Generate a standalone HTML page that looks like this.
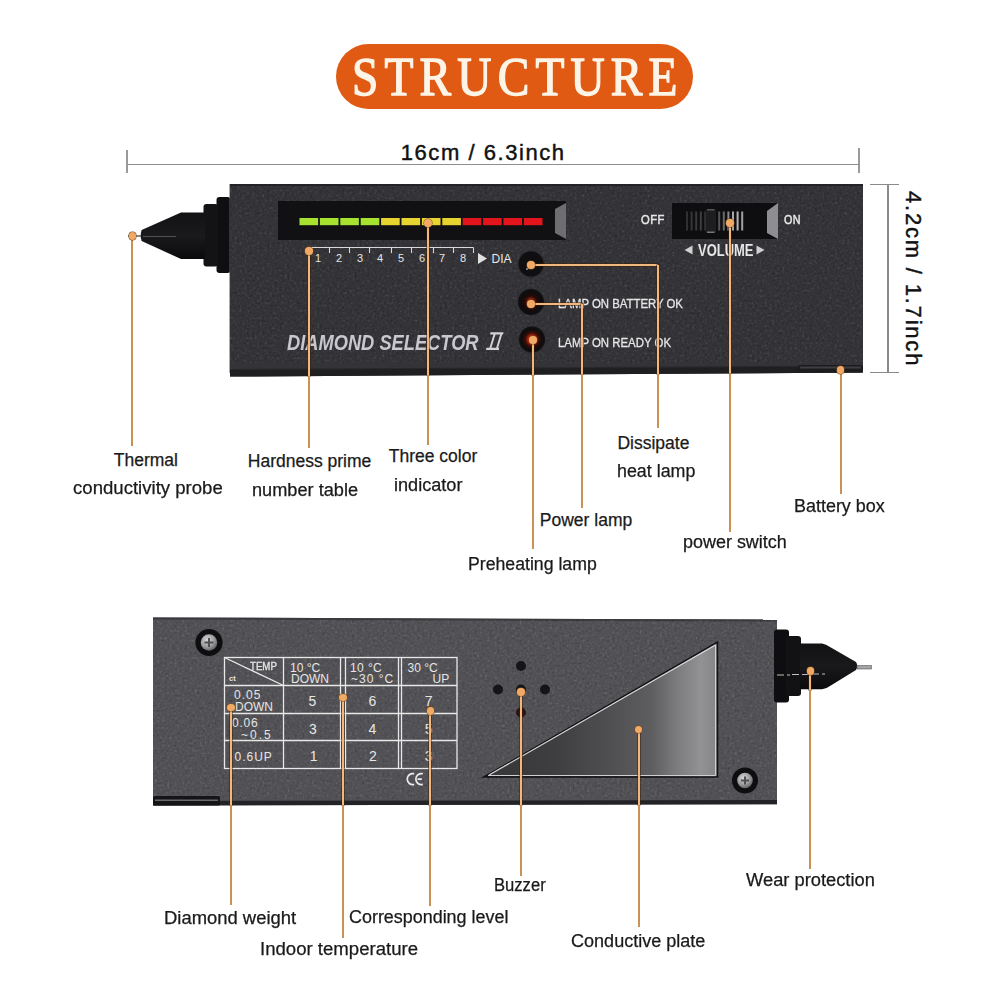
<!DOCTYPE html>
<html><head><meta charset="utf-8"><style>
html,body{margin:0;padding:0;background:#fff;}
body{width:1000px;height:1000px;position:relative;overflow:hidden;font-family:"Liberation Sans",sans-serif;}
.t{position:absolute;line-height:1;white-space:nowrap;}
.lab{color:#1a1a1a;-webkit-text-stroke:0.25px #1a1a1a;}
.dim{color:#111;}
.pw{color:#e6e6e6;}
.ban{color:#fdf4e8;font-family:"Liberation Serif",serif;font-weight:normal;letter-spacing:7.2px;-webkit-text-stroke:1.4px #fdf4e8;}
.banner{position:absolute;left:336px;top:44px;width:357px;height:65px;border-radius:33px;background:#e05a14;}
</style></head><body>
<div class="banner"></div><div class="t ban" style="left:352px;top:49.04px;font-size:55px;transform-origin:0 0;transform:scaleX(0.86);">STRUCTURE</div>
<div style="position:absolute;left:126.2px;top:150px;width:1.6px;height:23px;background:#9a9a9a;"></div>
<div style="position:absolute;left:858.2px;top:148px;width:1.6px;height:24.5px;background:#9a9a9a;"></div>
<div style="position:absolute;left:127px;top:163.8px;width:732px;height:1.4px;background:#8e8e8e;"></div>
<div class="t dim" style="left:400.8px;top:142.18px;font-size:22px;letter-spacing:1.55px;-webkit-text-stroke:0.45px #111;">16cm / 6.3inch</div>
<div style="position:absolute;left:887px;top:184px;width:1.5px;height:188px;background:#8a8a8a;"></div>
<div style="position:absolute;left:870px;top:183.5px;width:29px;height:1.5px;background:#8a8a8a;"></div>
<div style="position:absolute;left:870px;top:371.5px;width:29px;height:1.5px;background:#8a8a8a;"></div>
<div class="t dim" style="left:905px;top:191px;font-size:22px;letter-spacing:1.8px;-webkit-text-stroke:0.45px #111;transform-origin:0 0;transform:translate(18.5px,0) rotate(90deg);">4.2cm / 1.7inch</div>
<svg style="position:absolute;left:0;top:0" width="1000" height="1000" viewBox="0 0 1000 1000">
<defs>
<linearGradient id="cone" x1="0" y1="0" x2="0" y2="1">
 <stop offset="0" stop-color="#121214"/><stop offset="0.5" stop-color="#1a1a1c"/><stop offset="1" stop-color="#0a0a0c"/>
</linearGradient>
<linearGradient id="plate" x1="0" y1="0" x2="1" y2="0">
 <stop offset="0" stop-color="#2c2c2e"/><stop offset="0.55" stop-color="#505052"/><stop offset="0.85" stop-color="#8a8a8c"/><stop offset="1" stop-color="#7a7a7c"/>
</linearGradient>
<filter id="gL" x="0" y="0" width="1" height="1"><feTurbulence type="fractalNoise" baseFrequency="0.4" numOctaves="2" seed="4"/><feColorMatrix type="matrix" values="0 0 0 0 1  0 0 0 0 1  0 0 0 0 1  3.5 0 0 0 -2.0"/></filter>
<filter id="gD" x="0" y="0" width="1" height="1"><feTurbulence type="fractalNoise" baseFrequency="0.4" numOctaves="2" seed="4"/><feColorMatrix type="matrix" values="0 0 0 0 0  0 0 0 0 0  0 0 0 0 0  -3.5 0 0 0 1.5"/></filter>
<radialGradient id="lampR" cx="0.5" cy="0.5" r="0.5">
 <stop offset="0" stop-color="#ff7040"/><stop offset="0.25" stop-color="#c82a12"/><stop offset="0.5" stop-color="#3c0c08"/><stop offset="0.75" stop-color="#0e0c0c"/><stop offset="0.92" stop-color="#101012"/><stop offset="1" stop-color="#2a2a2c"/>
</radialGradient>
<radialGradient id="lampO" cx="0.5" cy="0.5" r="0.5">
 <stop offset="0" stop-color="#f06a38"/><stop offset="0.22" stop-color="#8a2010"/><stop offset="0.45" stop-color="#240a08"/><stop offset="0.75" stop-color="#0e0c0c"/><stop offset="0.92" stop-color="#101012"/><stop offset="1" stop-color="#2a2a2c"/>
</radialGradient>
</defs>
<!-- probe -->
<rect x="216.5" y="197" width="14" height="76" rx="3" fill="#0f0f11"/>
<rect x="203.5" y="204" width="14.5" height="62.5" rx="3" fill="#131315"/>
<path d="M141.6 230 Q139.8 235.5 141.6 241 L181 259 L205 259 L205 212.5 L181 212.5 Z" fill="url(#cone)"/>
<line x1="143" y1="236.5" x2="176" y2="236.5" stroke="#505052" stroke-width="1.2"/>
<line x1="128" y1="236" x2="141" y2="236" stroke="#3a3a3a" stroke-width="1.2"/>
<rect x="229.5" y="184" width="1.2" height="189" fill="#5a5a5e"/>
<!-- body -->
<path d="M231 184 L862 184 Q863 184 863 185 L863 372.5 L230 376.6 L230 185 Q230 184 231 184 Z" fill="#343438"/>
<rect x="230" y="184" width="633" height="2" fill="#232326"/>
<rect x="230" y="186" width="633" height="177" filter="url(#gL)" opacity="0.10"/>
<rect x="230" y="186" width="633" height="177" filter="url(#gD)" opacity="0.22"/>
<!-- display window -->
<rect x="278" y="201" width="288" height="39" fill="#111113"/>
<path d="M555 209 L566 203 L566 239 L555 233 Z" fill="#6e6e70"/>
<rect x="299.5" y="218" width="18.6" height="7.2" fill="#a6e22e"/>
<rect x="319.9" y="218" width="18.6" height="7.2" fill="#a6e22e"/>
<rect x="340.3" y="218" width="18.6" height="7.2" fill="#a6e22e"/>
<rect x="360.7" y="218" width="18.6" height="7.2" fill="#a6e22e"/>
<rect x="381.1" y="218" width="18.6" height="7.2" fill="#e8d430"/>
<rect x="401.5" y="218" width="18.6" height="7.2" fill="#e8d430"/>
<rect x="421.9" y="218" width="18.6" height="7.2" fill="#e8d430"/>
<rect x="442.3" y="218" width="18.6" height="7.2" fill="#e8d430"/>
<rect x="462.7" y="218" width="18.6" height="7.2" fill="#e3141c"/>
<rect x="483.1" y="218" width="18.6" height="7.2" fill="#e3141c"/>
<rect x="503.5" y="218" width="18.6" height="7.2" fill="#e3141c"/>
<rect x="523.9" y="218" width="18.6" height="7.2" fill="#e3141c"/>
<line x1="309" y1="247.5" x2="473.5" y2="247.5" stroke="#d8d8d8" stroke-width="1.1"/>
<line x1="329.5" y1="247.5" x2="329.5" y2="253" stroke="#d8d8d8" stroke-width="1.1"/>
<line x1="349.5" y1="247.5" x2="349.5" y2="253" stroke="#d8d8d8" stroke-width="1.1"/>
<line x1="369.5" y1="247.5" x2="369.5" y2="253" stroke="#d8d8d8" stroke-width="1.1"/>
<line x1="391.5" y1="247.5" x2="391.5" y2="253" stroke="#d8d8d8" stroke-width="1.1"/>
<line x1="411.5" y1="247.5" x2="411.5" y2="253" stroke="#d8d8d8" stroke-width="1.1"/>
<line x1="433.5" y1="247.5" x2="433.5" y2="253" stroke="#d8d8d8" stroke-width="1.1"/>
<line x1="453.5" y1="247.5" x2="453.5" y2="253" stroke="#d8d8d8" stroke-width="1.1"/>
<line x1="473.5" y1="247.5" x2="473.5" y2="253" stroke="#d8d8d8" stroke-width="1.1"/>
<path d="M478 253 L487 258.5 L478 264 Z" fill="#e0e0e0"/>
<circle cx="531" cy="264" r="13.5" fill="#2a2a2c"/><circle cx="531" cy="264" r="12.4" fill="#0f0f11"/><circle cx="527" cy="269" r="1" fill="#9a9a9a"/>
<circle cx="531" cy="302" r="13.5" fill="url(#lampO)"/>
<circle cx="532" cy="339.5" r="13.5" fill="url(#lampR)"/>
<rect x="672" y="203" width="106" height="36" fill="#0e0e10"/>
<path d="M767 211 L778 203 L778 239 L767 233 Z" fill="#8e8e90"/>
<rect x="686.0" y="211.5" width="2" height="19" fill="#303032"/>
<rect x="690.6" y="211.5" width="2" height="19" fill="#353537"/>
<rect x="695.2" y="211.5" width="2" height="19" fill="#3a3a3c"/>
<rect x="699.8" y="211.5" width="2" height="19" fill="#3e3e40"/>
<rect x="704.4" y="211.5" width="2" height="19" fill="#404042"/>
<rect x="709.0" y="211.5" width="2" height="19" fill="#444446"/>
<rect x="713.6" y="211.5" width="2" height="19" fill="#4a4a4c"/>
<rect x="718.2" y="211.5" width="2" height="19" fill="#555557"/>
<rect x="722.8" y="211.5" width="2" height="19" fill="#6a6a6c"/>
<rect x="727.4" y="211.5" width="2" height="19" fill="#8a8a8c"/>
<rect x="732.0" y="211.5" width="2" height="19" fill="#a8a8aa"/>
<rect x="736.6" y="211.5" width="2" height="19" fill="#b4b4b6"/>
<rect x="741.2" y="211.5" width="2" height="19" fill="#a0a0a2"/>
<rect x="705.5" y="209" width="10.5" height="24" rx="1.5" fill="#1e1e20"/>
<rect x="707" y="209" width="7.5" height="1.5" fill="#555"/><rect x="707" y="231.5" width="7.5" height="1.5" fill="#777"/>
<path d="M684.5 250 L692.5 245.5 L692.5 254.5 Z" fill="#d0d0d0"/>
<path d="M764.5 250 L756.5 245.5 L756.5 254.5 Z" fill="#d0d0d0"/>
<path d="M230 369 L863 365.5 L863 366.5 L230 370 Z" fill="#28282b"/>
<path d="M230 370 L863 366.5 L863 372.5 L230 376.6 Z" fill="#1f1f22"/>
<path d="M795 372.5 L799 365 L861 365 Q863.5 366 863 369 L862 372.5 Z" fill="#1c1c1e"/>
<rect x="800" y="366.5" width="61" height="2" fill="#3e3e42"/>
</svg>
<div class="t pw" style="left:315px;top:252.69px;font-size:11px;">1</div>
<div class="t pw" style="left:336px;top:252.69px;font-size:11px;">2</div>
<div class="t pw" style="left:357px;top:252.69px;font-size:11px;">3</div>
<div class="t pw" style="left:377px;top:252.69px;font-size:11px;">4</div>
<div class="t pw" style="left:398px;top:252.69px;font-size:11px;">5</div>
<div class="t pw" style="left:419px;top:252.69px;font-size:11px;">6</div>
<div class="t pw" style="left:439px;top:252.69px;font-size:11px;">7</div>
<div class="t pw" style="left:460px;top:252.69px;font-size:11px;">8</div>
<div class="t pw" style="left:491.5px;top:252.84px;font-size:12px;">DIA</div>
<div class="t pw" style="left:558px;top:298.42px;font-size:12.5px;-webkit-text-stroke:0.3px #e6e6e6;transform-origin:0 0;transform:scaleX(0.91);">LAMP ON BATTERY OK</div>
<div class="t pw" style="left:558px;top:337.42px;font-size:12.5px;-webkit-text-stroke:0.3px #e6e6e6;transform-origin:0 0;transform:scaleX(0.912);">LAMP ON READY OK</div>
<div class="t pw" style="left:641px;top:213.00px;font-size:13px;-webkit-text-stroke:0.5px #e6e6e6;letter-spacing:0.5px;transform-origin:0 0;transform:scaleX(0.86);">OFF</div>
<div class="t pw" style="left:784px;top:213.00px;font-size:13px;-webkit-text-stroke:0.5px #e6e6e6;letter-spacing:0.5px;transform-origin:0 0;transform:scaleX(0.83);">ON</div>
<div class="t pw" style="left:697.5px;top:242.96px;font-size:16px;font-weight:bold;transform-origin:0 0;transform:scaleX(0.81);">VOLUME</div>
<div class="t pw" style="left:287px;top:333.30px;font-size:21.5px;font-weight:bold;font-style:italic;color:#c8c8ce;transform-origin:0 0;transform:scaleX(0.85);">DIAMOND SELECTOR</div>
<svg style="position:absolute;left:0;top:0" width="1000" height="400"><g fill="#d2d2d8"><path d="M490.5 332.3 L503.5 332.3 L503.1 334.4 L490.1 334.4 Z"/><path d="M486.4 347.8 L499.2 347.8 L498.8 349.9 L486 349.9 Z"/><path d="M493.6 334 L495.6 334 L491.3 348.2 L489.3 348.2 Z"/><path d="M500.3 334 L502.3 334 L498 348.2 L496 348.2 Z"/></g></svg><svg style="position:absolute;left:0;top:0" width="1000" height="1000" viewBox="0 0 1000 1000">
<defs>
<linearGradient id="cone2" x1="0" y1="0" x2="0" y2="1">
 <stop offset="0" stop-color="#121214"/><stop offset="0.5" stop-color="#19191b"/><stop offset="1" stop-color="#0a0a0c"/>
</linearGradient>
<radialGradient id="screw" cx="0.4" cy="0.35" r="0.7"><stop offset="0" stop-color="#d8d8da"/><stop offset="0.6" stop-color="#9a9a9c"/><stop offset="1" stop-color="#5a5a5c"/></radialGradient>
<linearGradient id="plate2" gradientUnits="userSpaceOnUse" x1="484" y1="0" x2="717" y2="0">
 <stop offset="0" stop-color="#363638"/><stop offset="0.3" stop-color="#3e3e40"/><stop offset="0.55" stop-color="#505052"/><stop offset="0.72" stop-color="#5e5e60"/><stop offset="0.82" stop-color="#7a7a7c"/><stop offset="0.93" stop-color="#929294"/><stop offset="1" stop-color="#858587"/>
</linearGradient>
</defs>
<path d="M153 617.5 L777 619.5 L777 804.2 L153 805.6 Z" fill="#525256"/>
<path d="M153 617.5 L777 619.5 L777 621.5 L153 619.5 Z" fill="#3a3a3e"/>
<rect x="153" y="620.5" width="624" height="178" filter="url(#gL)" opacity="0.12"/>
<rect x="153" y="620.5" width="624" height="178" filter="url(#gD)" opacity="0.18"/>
<path d="M153 801 L777 800 L777 804.2 L153 805.6 Z" fill="#232327"/>
<rect x="153" y="796" width="67" height="9.6" rx="1.5" fill="#151517"/>
<rect x="155" y="799.5" width="63" height="1.5" fill="#6a6a6c"/>
<!-- probe -->
<rect x="774" y="629.4" width="15" height="73" rx="3" fill="#0e0e10"/>
<rect x="786" y="636" width="15" height="60" rx="3" fill="#121214"/>
<path d="M800 643.6 L822 643.6 Q826 644.5 830 647 L856 662 Q858.5 666 856 670 L830 686 Q826 689 822 689.3 L800 689.3 Z" fill="url(#cone2)"/>
<rect x="857" y="665.5" width="14.5" height="3.5" fill="#a4a4a6" stroke="#555" stroke-width="0.6"/>
<path d="M777 675 H790 M792 674.5 H808 M812 674 H825" stroke="#bdbdbd" stroke-width="1" stroke-dasharray="7 3"/>
<!-- screws -->
<circle cx="209" cy="642.5" r="13.6" fill="#0e0e10"/>
<circle cx="209" cy="642.5" r="8.3" fill="url(#screw)"/><path d="M204.5 642.5 H213.5 M209 638 V647" stroke="#505052" stroke-width="2"/>
<circle cx="745" cy="780.5" r="13" fill="#0e0e10"/>
<circle cx="745" cy="780.5" r="7.8" fill="url(#screw)"/><path d="M741 780.5 H749 M745 776.5 V784.5" stroke="#505052" stroke-width="2"/>
<!-- triangle plate -->
<path d="M484 777 L717.5 642 L717.5 777 Z" fill="url(#plate2)" stroke="#121214" stroke-width="1.5"/>
<path d="M489 775 L715.5 645" stroke="#d8d8d8" stroke-width="1.2"/>
<path d="M488 775.5 L715.5 775.5 L715.5 645" stroke="#cfcfcf" stroke-width="1" fill="none"/>
<!-- buzzer holes -->
<circle cx="521" cy="666" r="5" fill="#151517"/>
<circle cx="498" cy="689.5" r="5" fill="#151517"/>
<circle cx="521" cy="689.5" r="5" fill="#151517"/>
<circle cx="545" cy="689.5" r="5" fill="#151517"/>
<circle cx="521" cy="712.5" r="5" fill="#2a1414"/>
<!-- table -->
<g stroke="#e8e8e8" stroke-width="1.3" fill="none">
<rect x="224.5" y="657.5" width="232.5" height="111"/>
<line x1="283.5" y1="657.5" x2="283.5" y2="768.5"/>
<line x1="340.5" y1="657.5" x2="340.5" y2="768.5"/>
<line x1="345.5" y1="657.5" x2="345.5" y2="768.5"/>
<line x1="398.5" y1="657.5" x2="398.5" y2="768.5"/>
<line x1="401.5" y1="657.5" x2="401.5" y2="768.5"/>
<line x1="224.5" y1="685.5" x2="457" y2="685.5"/>
<line x1="224.5" y1="713.5" x2="457" y2="713.5"/>
<line x1="224.5" y1="740.5" x2="457" y2="740.5"/>
<line x1="224.5" y1="657.5" x2="283.5" y2="685.5"/>
</g>
</svg>
<div class="t pw" style="left:250px;top:660.91px;font-size:10.5px;-webkit-text-stroke:0.3px #e6e6e6;transform-origin:0 0;transform:scaleX(0.92);">TEMP</div>
<div class="t pw" style="left:229px;top:674.65px;font-size:7.5px;font-weight:bold;">ct</div>
<div class="t pw" style="left:290px;top:662.34px;font-size:12px;">10 °C</div>
<div class="t pw" style="left:291px;top:672.84px;font-size:12px;">DOWN</div>
<div class="t pw" style="left:350px;top:662.34px;font-size:12px;letter-spacing:0.4px;">10 °C</div>
<div class="t pw" style="left:351px;top:672.84px;font-size:12px;letter-spacing:1px;">~30 °C</div>
<div class="t pw" style="left:407.5px;top:662.34px;font-size:12px;">30 °C</div>
<div class="t pw" style="left:432.5px;top:672.84px;font-size:12px;">UP</div>
<div class="t pw" style="left:234px;top:689.34px;font-size:12px;letter-spacing:1px;">0.05</div>
<div class="t pw" style="left:235px;top:701.04px;font-size:12px;">DOWN</div>
<div class="t pw" style="left:232px;top:716.84px;font-size:12px;letter-spacing:0.8px;">0.06</div>
<div class="t pw" style="left:241px;top:729.34px;font-size:12px;letter-spacing:2px;">~0.5</div>
<div class="t pw" style="left:234.5px;top:750.84px;font-size:12px;letter-spacing:1px;">0.6UP</div>
<div class="t pw" style="left:308.5px;top:694.15px;font-size:14px;">5</div>
<div class="t pw" style="left:368.5px;top:694.15px;font-size:14px;">6</div>
<div class="t pw" style="left:424.75px;top:694.15px;font-size:14px;">7</div>
<div class="t pw" style="left:309px;top:721.65px;font-size:14px;">3</div>
<div class="t pw" style="left:368.5px;top:721.65px;font-size:14px;">4</div>
<div class="t pw" style="left:424.75px;top:721.65px;font-size:14px;">5</div>
<div class="t pw" style="left:309.75px;top:749.15px;font-size:14px;">1</div>
<div class="t pw" style="left:369px;top:749.15px;font-size:14px;">2</div>
<div class="t pw" style="left:424.75px;top:749.15px;font-size:14px;">3</div>
<svg style="position:absolute;left:0;top:0" width="1000" height="1000"><g fill="none" stroke="#ececec" stroke-width="1.7"><path d="M414.2 773.8 A5.5 5.5 0 1 0 414.2 784.4"/><path d="M422.8 773.8 A5.5 5.5 0 1 0 422.8 784.4 M417.5 779.1 H421.8"/></g></svg><div style="position:absolute;left:131px;top:236px;width:2px;height:210px;background:#c89256;"></div>
<div style="position:absolute;left:128.8px;top:232.3px;width:7.4px;height:7.4px;border-radius:50%;background:#f0aa66;box-shadow:0 0 0 0.5px #7a4a20;"></div>
<div style="position:absolute;left:308px;top:251px;width:2px;height:125.08571879936812px;background:#f0b87c;box-shadow:0 0 0 0.6px rgba(60,30,10,0.8);"></div>
<div style="position:absolute;left:308px;top:376.0857187993681px;width:2px;height:71.91428120063188px;background:#c89256;"></div>
<div style="position:absolute;left:305.3px;top:247.3px;width:7.4px;height:7.4px;border-radius:50%;background:#f0aa66;box-shadow:0 0 0 0.5px #7a4a20;"></div>
<div style="position:absolute;left:427px;top:223px;width:2px;height:152.31947867298578px;background:#f0b87c;box-shadow:0 0 0 0.6px rgba(60,30,10,0.8);"></div>
<div style="position:absolute;left:427px;top:375.3194786729858px;width:2px;height:69.68052132701422px;background:#c89256;"></div>
<div style="position:absolute;left:424.3px;top:219.3px;width:7.4px;height:7.4px;border-radius:50%;background:#f0aa66;box-shadow:0 0 0 0.5px #7a4a20;"></div>
<div style="position:absolute;left:531px;top:264px;width:127px;height:2px;background:#f0b87c;box-shadow:0 0 0 0.6px rgba(60,30,10,0.8);"></div>
<div style="position:absolute;left:657px;top:265px;width:2px;height:108.82780410742498px;background:#f0b87c;box-shadow:0 0 0 0.6px rgba(60,30,10,0.8);"></div>
<div style="position:absolute;left:657px;top:373.827804107425px;width:2px;height:54.17219589257502px;background:#c89256;"></div>
<div style="position:absolute;left:527.3px;top:261.3px;width:7.4px;height:7.4px;border-radius:50%;background:#f0aa66;box-shadow:0 0 0 0.5px #7a4a20;"></div>
<div style="position:absolute;left:531px;top:303px;width:51px;height:2px;background:#f0b87c;box-shadow:0 0 0 0.6px rgba(60,30,10,0.8);"></div>
<div style="position:absolute;left:581px;top:304px;width:2px;height:70.32330173775671px;background:#f0b87c;box-shadow:0 0 0 0.6px rgba(60,30,10,0.8);"></div>
<div style="position:absolute;left:581px;top:374.3233017377567px;width:2px;height:133.6766982622433px;background:#c89256;"></div>
<div style="position:absolute;left:527.3px;top:300.3px;width:7.4px;height:7.4px;border-radius:50%;background:#f0aa66;box-shadow:0 0 0 0.5px #7a4a20;"></div>
<div style="position:absolute;left:532px;top:340px;width:2px;height:34.63744075829385px;background:#f0b87c;box-shadow:0 0 0 0.6px rgba(60,30,10,0.8);"></div>
<div style="position:absolute;left:532px;top:374.63744075829385px;width:2px;height:174.36255924170615px;background:#c89256;"></div>
<div style="position:absolute;left:529.3px;top:336.3px;width:7.4px;height:7.4px;border-radius:50%;background:#f0aa66;box-shadow:0 0 0 0.5px #7a4a20;"></div>
<div style="position:absolute;left:729px;top:223px;width:2px;height:150.358214849921px;background:#f0b87c;box-shadow:0 0 0 0.6px rgba(60,30,10,0.8);"></div>
<div style="position:absolute;left:729px;top:373.358214849921px;width:2px;height:158.641785150079px;background:#c89256;"></div>
<div style="position:absolute;left:726.3px;top:219.3px;width:7.4px;height:7.4px;border-radius:50%;background:#f0aa66;box-shadow:0 0 0 0.5px #7a4a20;"></div>
<div style="position:absolute;left:840px;top:370px;width:2px;height:2.8000000000000114px;background:#f0b87c;box-shadow:0 0 0 0.6px rgba(60,30,10,0.8);"></div>
<div style="position:absolute;left:840px;top:372.8px;width:2px;height:121.19999999999999px;background:#c89256;"></div>
<div style="position:absolute;left:836.8px;top:366.3px;width:7.4px;height:7.4px;border-radius:50%;background:#f0aa66;box-shadow:0 0 0 0.5px #7a4a20;"></div>
<div style="position:absolute;left:230px;top:707.5px;width:2px;height:97.92500000000007px;background:#f0b87c;box-shadow:0 0 0 0.6px rgba(60,30,10,0.8);"></div>
<div style="position:absolute;left:230px;top:805.4250000000001px;width:2px;height:99.57499999999993px;background:#c89256;"></div>
<div style="position:absolute;left:227.3px;top:703.8px;width:7.4px;height:7.4px;border-radius:50%;background:#f0aa66;box-shadow:0 0 0 0.5px #7a4a20;"></div>
<div style="position:absolute;left:342px;top:697.5px;width:2px;height:107.67371794871792px;background:#f0b87c;box-shadow:0 0 0 0.6px rgba(60,30,10,0.8);"></div>
<div style="position:absolute;left:342px;top:805.1737179487179px;width:2px;height:132.82628205128208px;background:#c89256;"></div>
<div style="position:absolute;left:339.3px;top:693.8px;width:7.4px;height:7.4px;border-radius:50%;background:#f0aa66;box-shadow:0 0 0 0.5px #7a4a20;"></div>
<div style="position:absolute;left:429px;top:711px;width:2px;height:93.97740384615383px;background:#f0b87c;box-shadow:0 0 0 0.6px rgba(60,30,10,0.8);"></div>
<div style="position:absolute;left:429px;top:804.9774038461538px;width:2px;height:100.62259615384619px;background:#c89256;"></div>
<div style="position:absolute;left:426.8px;top:707.3px;width:7.4px;height:7.4px;border-radius:50%;background:#f0aa66;box-shadow:0 0 0 0.5px #7a4a20;"></div>
<div style="position:absolute;left:520px;top:692px;width:2px;height:112.77435897435896px;background:#f0b87c;box-shadow:0 0 0 0.6px rgba(60,30,10,0.8);"></div>
<div style="position:absolute;left:520px;top:804.774358974359px;width:2px;height:70.92564102564108px;background:#c89256;"></div>
<div style="position:absolute;left:517.3px;top:688.3px;width:7.4px;height:7.4px;border-radius:50%;background:#f0aa66;box-shadow:0 0 0 0.5px #7a4a20;"></div>
<div style="position:absolute;left:638px;top:729.4px;width:2px;height:75.11006410256414px;background:#f0b87c;box-shadow:0 0 0 0.6px rgba(60,30,10,0.8);"></div>
<div style="position:absolute;left:638px;top:804.5100641025641px;width:2px;height:122.88993589743586px;background:#c89256;"></div>
<div style="position:absolute;left:635.0px;top:725.6999999999999px;width:7.4px;height:7.4px;border-radius:50%;background:#f0aa66;box-shadow:0 0 0 0.5px #7a4a20;"></div>
<div style="position:absolute;left:809px;top:671px;width:2px;height:19px;background:#f0b87c;box-shadow:0 0 0 0.6px rgba(60,30,10,0.8);"></div>
<div style="position:absolute;left:809px;top:690px;width:2px;height:178.60000000000002px;background:#c89256;"></div>
<div style="position:absolute;left:806.8px;top:667.3px;width:7.4px;height:7.4px;border-radius:50%;background:#f0aa66;box-shadow:0 0 0 0.5px #7a4a20;"></div>
<div class="t lab" style="left:113.8px;top:452.19px;font-size:17.5px;">Thermal</div>
<div class="t lab" style="left:72.8px;top:480.19px;font-size:17.5px;transform-origin:0 0;transform:scaleX(1.062);">conductivity probe</div>
<div class="t lab" style="left:247.8px;top:453.49px;font-size:17.5px;">Hardness prime</div>
<div class="t lab" style="left:252.3px;top:482.19px;font-size:17.5px;transform-origin:0 0;transform:scaleX(1.038);">number table</div>
<div class="t lab" style="left:388.8px;top:447.79px;font-size:17.5px;">Three color</div>
<div class="t lab" style="left:394.3px;top:476.89px;font-size:17.5px;transform-origin:0 0;transform:scaleX(1.035);">indicator</div>
<div class="t lab" style="left:617.4px;top:434.69px;font-size:17.5px;">Dissipate</div>
<div class="t lab" style="left:617.4px;top:463.19px;font-size:17.5px;transform-origin:0 0;transform:scaleX(1.02);">heat lamp</div>
<div class="t lab" style="left:539.8px;top:512.19px;font-size:17.5px;">Power lamp</div>
<div class="t lab" style="left:467.8px;top:556.19px;font-size:17.5px;transform-origin:0 0;transform:scaleX(1.01);">Preheating lamp</div>
<div class="t lab" style="left:682.8px;top:534.49px;font-size:17.5px;transform-origin:0 0;transform:scaleX(1.026);">power switch</div>
<div class="t lab" style="left:794.0999999999999px;top:497.69px;font-size:17.5px;transform-origin:0 0;transform:scaleX(1.025);">Battery box</div>
<div class="t lab" style="left:164.0px;top:909.99px;font-size:17.5px;transform-origin:0 0;transform:scaleX(1.053);">Diamond weight</div>
<div class="t lab" style="left:259.8px;top:941.19px;font-size:17.5px;transform-origin:0 0;transform:scaleX(1.062);">Indoor temperature</div>
<div class="t lab" style="left:349.40000000000003px;top:908.89px;font-size:17.5px;transform-origin:0 0;transform:scaleX(1.024);">Corresponding level</div>
<div class="t lab" style="left:493.5px;top:877.39px;font-size:17.5px;transform-origin:0 0;transform:scaleX(0.949);">Buzzer</div>
<div class="t lab" style="left:571.1999999999999px;top:933.19px;font-size:17.5px;transform-origin:0 0;transform:scaleX(1.031);">Conductive plate</div>
<div class="t lab" style="left:745.5px;top:872.39px;font-size:17.5px;transform-origin:0 0;transform:scaleX(1.046);">Wear protection</div>

</body></html>
